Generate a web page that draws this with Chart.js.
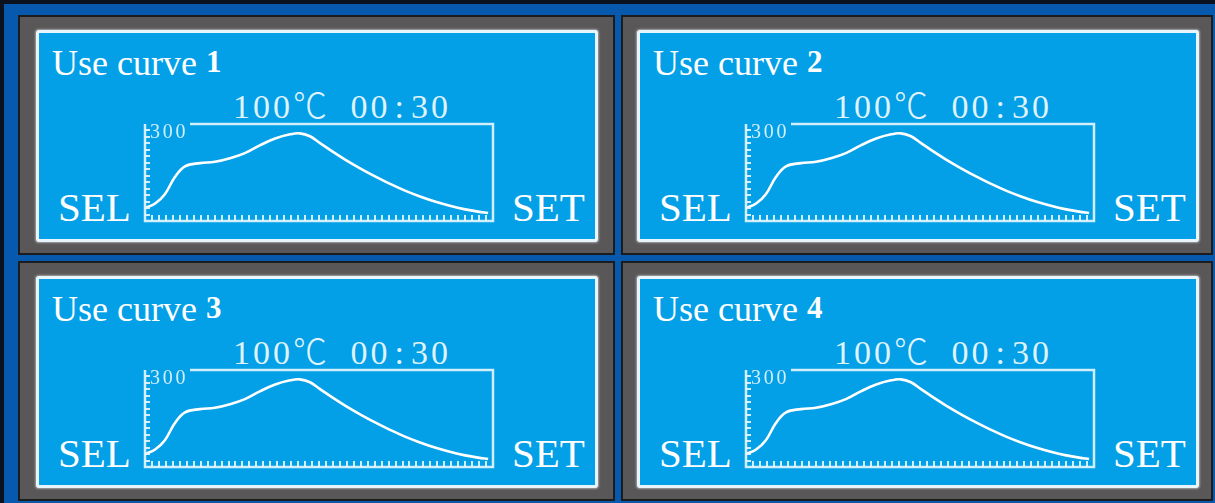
<!DOCTYPE html>
<html>
<head>
<meta charset="utf-8">
<title>Use curve</title>
<script src="https://cdn.jsdelivr.net/npm/chart.js@4.4.1/dist/chart.umd.min.js"></script>
<style>
  html, body { margin: 0; padding: 0; }
  body { width: 1215px; height: 503px; background: #0a1220; position: relative; overflow: hidden; }
  .frame { position: absolute; left: 4px; top: 4px; right: 0; bottom: 0; background: #0759ad; }
  .panel { position: absolute; box-sizing: border-box; height: 240px; background: #595757; border: 2px solid #1c1c1e; }
  .screen {
    position: absolute; left: 16px; top: 13px; box-sizing: border-box; width: 562px; height: 212px;
    background: #03a0e7; border: 3px solid #e9f5fc; border-radius: 3px;
    box-shadow: 0 0 2px 1px rgba(255,255,255,0.45);
    font-family: "Liberation Serif", serif; color: #fff;
  }
  .panel.right .screen { left: 14px; }
  .screen div { position: absolute; white-space: pre; }
  .title { left: 13px; top: 12px; font-size: 36px; line-height: 36px; }
  .title b { font-size: 31px; position: relative; top: -3px; }
  .status { left: 194px; top: 54px; font-size: 34px; line-height: 34px; letter-spacing: 3px; color: rgba(255,255,255,0.88); }
  .status .deg { font-family: "Noto Sans CJK SC", sans-serif; font-weight: 300; }
  .status .col { padding: 0 4px; }
  .status .gap { padding-left: 9px; }
  .sel, .set { top: 154px; font-size: 41px; line-height: 41px; }
  .sel { left: 19px; }
  .set { left: 473px; }
  .screen canvas { position: absolute; left: 104px; top: 89px; }
</style>
</head>
<body>
<div class="frame"></div>
<div id="board"></div>
<script>
// curve numbers shown on the four panels
const curveNames = ['1', '2', '3', '4'];
const setTemp = '100';
const setTime = ['00', '30'];

// reflow curve: time (0..100 across the plot) vs temperature
const timeX = [0, 2.9, 5.7, 8.6, 11.5, 15.8, 20.1, 24.4, 28.7, 33, 37.4, 41.7, 44.5, 47.4, 50.3, 53.7, 57.5, 61.8, 66.1, 70.4, 74.7, 79, 83.3, 87.6, 92, 95.7, 98.6];
const tempY = [40, 54, 83, 136, 169, 179, 183, 194, 210, 234, 255, 268, 271, 262, 241, 216, 190, 163, 138, 115, 94, 76, 60, 47, 36, 29, 25];

const xMax = 100;
const yMax = 300;
const xTickStep = 2;
const yTickStep = 20;
const yTopLabel = '300';

const panelBoxes = [
  { left: 18, top: 15, width: 597 },
  { left: 621, top: 15, width: 592 },
  { left: 18, top: 261, width: 597 },
  { left: 621, top: 261, width: 592 }
];

const lineColor = 'rgba(232,246,253,0.9)';

const lcdFrame = {
  id: 'lcdFrame',
  afterDatasetsDraw(chart) {
    const { ctx, chartArea: a, scales: { x, y } } = chart;
    ctx.save();
    ctx.strokeStyle = lineColor;
    ctx.lineWidth = 2.5;
    ctx.beginPath();
    ctx.moveTo(a.left + 45, a.top);
    ctx.lineTo(a.right, a.top);
    ctx.lineTo(a.right, a.bottom);
    ctx.lineTo(a.left, a.bottom);
    ctx.lineTo(a.left, a.top);
    ctx.stroke();

    // tick marks point inward from the axes
    ctx.lineWidth = 2;
    ctx.beginPath();
    for (let v = yTickStep; v < yMax; v += yTickStep) {
      const py = Math.round(y.getPixelForValue(v));
      ctx.moveTo(a.left, py);
      ctx.lineTo(a.left + 5, py);
    }
    for (let v = xTickStep; v < xMax; v += xTickStep) {
      const px = Math.round(x.getPixelForValue(v));
      ctx.moveTo(px, a.bottom);
      ctx.lineTo(px, a.bottom - 6);
    }
    ctx.stroke();

    ctx.fillStyle = lineColor;
    ctx.font = '20px "Liberation Serif", serif';
    ctx.textBaseline = 'alphabetic';
    let lx = a.left + 5;
    for (const ch of yTopLabel) {
      ctx.fillText(ch, lx, y.getPixelForValue(yMax) + 14);
      lx += 12.8;
    }
    ctx.restore();
  }
};

const board = document.getElementById('board');

curveNames.forEach((name, i) => {
  const box = panelBoxes[i];
  const panel = document.createElement('div');
  panel.className = 'panel' + (i % 2 ? ' right' : '');
  panel.style.left = box.left + 'px';
  panel.style.top = box.top + 'px';
  panel.style.width = box.width + 'px';

  const screen = document.createElement('div');
  screen.className = 'screen';
  screen.innerHTML =
    '<div class="title">Use curve <b>' + name + '</b></div>' +
    '<div class="status">' + setTemp + '<span class="deg">℃</span><span class="gap"> </span>' + setTime[0] + '<span class="col">:</span>' + setTime[1] + '</div>' +
    '<div class="sel">SEL</div><div class="set">SET</div>';

  const canvas = document.createElement('canvas');
  canvas.width = 352;
  canvas.height = 101;
  screen.appendChild(canvas);
  panel.appendChild(screen);
  board.appendChild(panel);

  new Chart(canvas, {
    type: 'line',
    data: {
      datasets: [{
        data: timeX.map((t, k) => ({ x: t, y: tempY[k] })),
        borderColor: '#ffffff',
        borderWidth: 2.6,
        pointRadius: 0,
        tension: 0.4,
        fill: false
      }]
    },
    options: {
      responsive: false,
      animation: false,
      layout: { padding: 2 },
      plugins: { legend: { display: false }, tooltip: { enabled: false } },
      scales: {
        x: { type: 'linear', display: false, min: 0, max: xMax },
        y: { display: false, min: 0, max: yMax }
      }
    },
    plugins: [lcdFrame]
  });
});
</script>
</body>
</html>
